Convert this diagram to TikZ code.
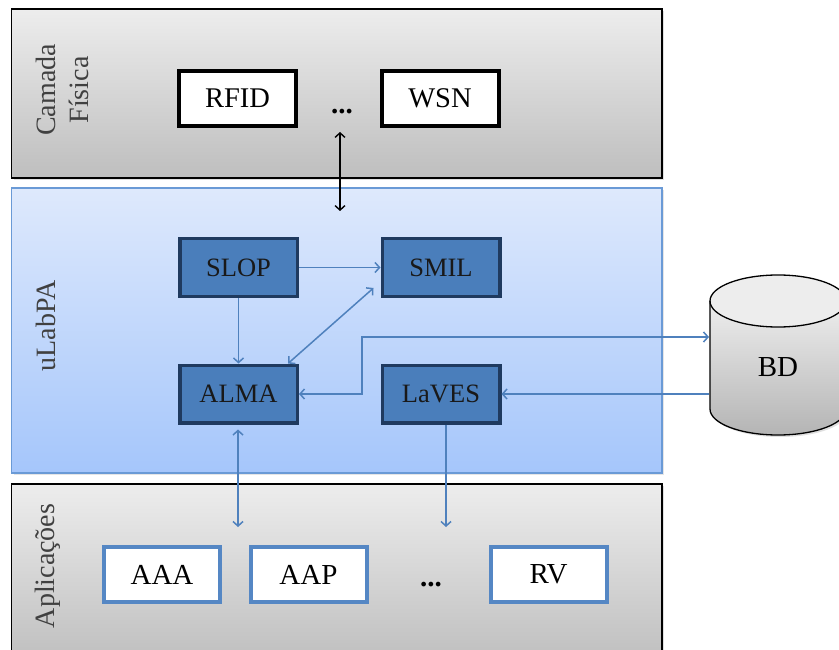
\documentclass[tikz,border=0pt]{standalone}
\usepackage{fontspec}
\setmainfont{Liberation Serif}
\usetikzlibrary{arrows.meta,calc,shadows}

\definecolor{graytop}{HTML}{EDEDED}
\definecolor{graybot}{HTML}{BEBEBE}
\definecolor{bluetop}{HTML}{DEE9FC}
\definecolor{bluebot}{HTML}{A5C6FB}
\definecolor{blueedge}{HTML}{6A9AD6}
\definecolor{modfill}{HTML}{4A7EBB}
\definecolor{modedge}{HTML}{1F3A5F}
\definecolor{appedge}{HTML}{5587C4}
\definecolor{linkblue}{HTML}{4F81BD}
\definecolor{labelgray}{HTML}{404040}

\tikzset{
  layergray/.style={draw=black, line width=1.4pt, top color=graytop, bottom color=graybot,
    drop shadow={shadow xshift=2pt, shadow yshift=-2pt, opacity=0.25}},
  layerblue/.style={draw=blueedge, line width=1.8pt, top color=bluetop, bottom color=bluebot,
    drop shadow={shadow xshift=2pt, shadow yshift=-2pt, opacity=0.2}},
  devbox/.style={draw=black, line width=4pt, fill=white, minimum width=117pt, minimum height=55pt,
    inner sep=0pt, font=\fontsize{28.5}{32}\selectfont,
    drop shadow={shadow xshift=1.5pt, shadow yshift=-1.5pt, opacity=0.25}},
  modbox/.style={draw=modedge, line width=3.5pt, fill=modfill, minimum width=117.5pt, minimum height=57.5pt,
    inner sep=0pt, font=\fontsize{26.5}{30}\selectfont, text=black!90,
    drop shadow={shadow xshift=1.5pt, shadow yshift=-1.5pt, opacity=0.3}},
  appbox/.style={draw=appedge, line width=4pt, fill=white, minimum width=116pt, minimum height=55pt,
    inner sep=0pt, font=\fontsize{29}{33}\selectfont,
    drop shadow={shadow xshift=1.5pt, shadow yshift=-1.5pt, opacity=0.2}},
  layerlabel/.style={rotate=90, inner sep=0pt, align=center, text=labelgray,
    font=\fontsize{28}{33}\selectfont},
  dotslabel/.style={inner sep=0pt, font=\fontsize{29}{33}\selectfont\bfseries},
  link/.style={draw=linkblue, line width=1.5pt},
  blacklink/.style={draw=black, line width=1.4pt},
}

\begin{document}
\begin{tikzpicture}[x=1pt, y=-1pt, >={Straight Barb[length=4.5pt,width=10pt]}]
\path[use as bounding box, clip] (0,0) rectangle (839,650);
\fill[white] (0,0) rectangle (839,650);

% three layers
\node[layergray, minimum width=650.5pt, minimum height=169pt, inner sep=0pt] (phys) at (336.75,93.5) {};
\node[layerblue, minimum width=650.5pt, minimum height=285pt, inner sep=0pt] (mid) at (336.75,330.5) {};
\node[layergray, minimum width=650.5pt, minimum height=180pt, inner sep=0pt] (apps) at (336.75,574) {};

% layer titles
\node[layerlabel] (tphys) at (62,90) {Camada\\Física};
\node[layerlabel] (tmid) at (46,326) {uLabPA};
\node[layerlabel, anchor=base] (tapps) at (54,566) {Aplicações};

% physical devices
\node[devbox] (RFID) at (237.5,98.5) {RFID};
\node[dotslabel] (dtop) at (342,112) {...};
\node[devbox] (WSN) at (440,98.5) {WSN};

% middleware modules
\node[modbox] (SLOP) at (238.5,267.5) {SLOP};
\node[modbox] (SMIL) at (441,267.5) {SMIL};
\node[modbox] (ALMA) at (238.5,394) {ALMA};
\node[modbox] (LaVES) at (441,394) {LaVES};

% applications
\node[appbox] (AAA) at (162,574.5) {AAA};
\node[appbox] (AAP) at (308.5,574.5) {AAP};
\node[dotslabel] (dbot) at (431,585) {...};
\node[appbox] (RV) at (548.5,574.5) {RV};

% database cylinder
\fill[top color=graytop!95!white, bottom color=graybot!95!black,
      drop shadow={shadow xshift=2pt, shadow yshift=-2pt, opacity=0.25}]
  (710,301) -- (710,409)
  .. controls (710,423.4) and (740.4,435) .. (778,435)
  .. controls (815.6,435) and (846,423.4) .. (846,409)
  -- (846,301) -- cycle;
\draw[line width=1.3pt, fill=graytop]
  (778,301) ellipse [x radius=68, y radius=26];
\draw[line width=1.3pt]
  (710,301) -- (710,409)
  .. controls (710,423.4) and (740.4,435) .. (778,435)
  .. controls (815.6,435) and (846,423.4) .. (846,409)
  -- (846,301);
\node[inner sep=0pt, font=\fontsize{29}{33}\selectfont] (BD) at (778,367) {BD};

% connector end points
\coordinate (ptop) at (340,132);
\coordinate (pmid) at (340,211);
\coordinate (bdin) at (709,337);
\coordinate (bdout) at (709,394);
\coordinate (bend) at (362,337);
\coordinate (appa) at (238,527);
\coordinate (appb) at (446,527);

% connectors
\draw[blacklink, <->] (ptop) -- (pmid);
\draw[link, ->] (SLOP.east) -- (SMIL.west);
\draw[link, ->] (SLOP.south) -- (ALMA.north);
\draw[link, <->] ($(SMIL.south west)+(-7,-10)$) -- ($(ALMA.north east)+(-11,0)$);
\draw[link, <->] (ALMA.east) -| (bend) -- (bdin);
\draw[link, ->] (bdout) -- (LaVES.east);
\draw[link, <->] ($(ALMA.south)+(-0.5,5)$) -- (appa);
\draw[link, ->] ($(LaVES.south)+(5,0)$) -- (appb);
\end{tikzpicture}
\end{document}
